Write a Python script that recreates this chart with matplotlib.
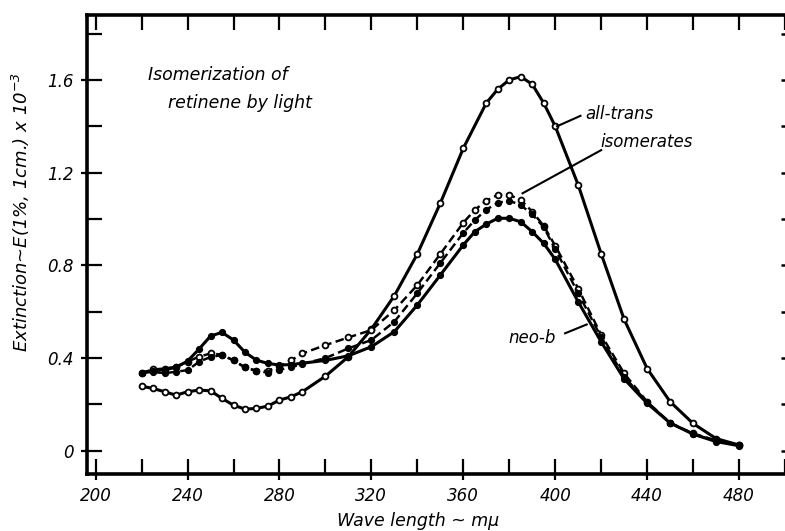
import numpy as np
import matplotlib
matplotlib.use("Agg")
import matplotlib.pyplot as plt
from matplotlib.ticker import MultipleLocator, FixedLocator

# wavelengths (m-mu) and extinction E(1%, 1cm) x 10^-3
wl_at = [220, 225, 230, 235, 240, 245, 250, 255, 260, 265, 270, 275, 280, 285, 290,
         300, 310, 320, 330, 340, 350, 360, 370, 375, 380, 385, 390, 395, 400,
         410, 420, 430, 440, 450, 460, 470, 480]
ext_at = [0.279, 0.269, 0.255, 0.240, 0.255, 0.262, 0.259, 0.226, 0.197, 0.180, 0.183,
          0.193, 0.219, 0.233, 0.255, 0.322, 0.406, 0.525, 0.669, 0.849, 1.068, 1.305,
          1.500, 1.560, 1.600, 1.614, 1.581, 1.500, 1.400, 1.147, 0.850, 0.567, 0.355,
          0.212, 0.118, 0.053, 0.025]

wl_iso = [220, 225, 230, 235, 240, 245, 250, 255, 260, 265, 270, 275, 280, 285, 290,
          300, 310, 320, 330, 340, 350, 360, 365, 370, 375, 380, 385, 390, 395, 400,
          410, 420, 430, 440, 450, 460, 470, 480]
ext_neo = [0.337, 0.345, 0.350, 0.360, 0.387, 0.439, 0.495, 0.511, 0.478, 0.425, 0.391,
           0.377, 0.370, 0.372, 0.378, 0.390, 0.410, 0.449, 0.514, 0.629, 0.758, 0.888,
           0.945, 0.978, 1.003, 1.003, 0.988, 0.945, 0.895, 0.826, 0.643, 0.470, 0.310,
           0.205, 0.120, 0.072, 0.040, 0.022]
ext_iso_open = [0.337, 0.351, 0.355, 0.363, 0.385, 0.406, 0.420, 0.415, 0.390, 0.360,
                0.345, 0.345, 0.365, 0.390, 0.420, 0.456, 0.489, 0.521, 0.607, 0.715,
                0.849, 0.984, 1.039, 1.079, 1.104, 1.104, 1.082, 1.032, 0.970, 0.885,
                0.700, 0.500, 0.334, 0.212, 0.121, 0.075, 0.045, 0.025]
ext_iso_fill = [0.337, 0.340, 0.335, 0.341, 0.348, 0.384, 0.405, 0.413, 0.390, 0.360,
                0.345, 0.337, 0.350, 0.360, 0.375, 0.400, 0.442, 0.478, 0.557, 0.680,
                0.810, 0.940, 0.995, 1.040, 1.070, 1.079, 1.060, 1.020, 0.965, 0.870,
                0.680, 0.490, 0.320, 0.210, 0.120, 0.073, 0.042, 0.024]

x_labels = [200, 240, 280, 320, 360, 400, 440, 480]
y_labels = [0, 0.4, 0.8, 1.2, 1.6]

plt.rcParams['font.family'] = 'DejaVu Sans'
plt.rcParams['font.style'] = 'oblique'
plt.rcParams['mathtext.fontset'] = 'dejavusans'

fig = plt.figure(figsize=(7.85, 5.31), dpi=100)
ax = fig.add_axes([0.1104, 0.1073, 0.8896, 0.8645])

lw = 2.2
dash = (0, (3.5, 1.8))
ax.plot(wl_at, ext_at, '-', color='black', lw=lw, marker='o', ms=4.2,
        mfc='white', mec='black', mew=1.3)
ax.plot(wl_iso, ext_iso_open, color='black', lw=lw * 0.8, ls=dash, marker='o', ms=4.2,
        mfc='white', mec='black', mew=1.3)
ax.plot(wl_iso, ext_iso_fill, color='black', lw=lw * 0.8, ls=dash, marker='o', ms=4.2,
        mfc='black', mec='black')
ax.plot(wl_iso, ext_neo, '-', color='black', lw=lw, marker='o', ms=4.2,
        mfc='black', mec='black')

ax.set_xlim(196.1, 500)
ax.set_ylim(-0.1, 1.88)

for s in ['left', 'bottom', 'top']:
    ax.spines[s].set_linewidth(2.6)
ax.spines['right'].set_visible(False)

ax.xaxis.set_major_locator(FixedLocator(x_labels))
ax.xaxis.set_minor_locator(MultipleLocator(20))
ax.yaxis.set_major_locator(FixedLocator(y_labels))
ax.yaxis.set_minor_locator(MultipleLocator(0.2))
ax.xaxis.remove_overlapping_locs = False
ax.yaxis.remove_overlapping_locs = False
ax.set_xticklabels([str(v) for v in x_labels])
ax.set_yticklabels(['0', '0.4', '0.8', '1.2', '1.6'])

ax.tick_params(which='major', direction='out', length=4.5, width=1.6,
               labelsize=12, pad=5, top=False, right=False)
ax.tick_params(which='minor', direction='in', length=11, width=1.6,
               top=True, bottom=True, left=True, right=False)

# short marks along the right edge
rt = ax.twinx()
rt.set_ylim(ax.get_ylim())
rt.yaxis.set_major_locator(MultipleLocator(0.2))
rt.tick_params(axis='y', direction='in', length=3, width=1.8, labelright=False)
for s in rt.spines.values():
    s.set_visible(False)

ax.set_xlabel(u'Wave length ~ m\u03bc', fontsize=12.5)
ax.xaxis.set_label_coords(0.4745, -0.082)
ax.set_ylabel('Extinction~E(1%, 1cm.) x 10$^{-3}$', fontsize=13)
ax.yaxis.set_label_coords(-0.078, 0.57)

ax.text(222.8, 1.62, 'Isomerization of', fontsize=12.5, va='center')
ax.text(231.5, 1.50, 'retinene by light', fontsize=12.5, va='center')

ax.text(413, 1.455, 'all-trans', fontsize=12, va='center')
ax.plot([400.8, 411], [1.40, 1.445], color='black', lw=1.5)
ax.text(419.5, 1.33, 'isomerates', fontsize=12, va='center')
ax.plot([385.8, 420], [1.111, 1.297], color='black', lw=1.5)
ax.text(379.5, 0.486, 'neo-b', fontsize=12, va='center')
ax.plot([404.3, 413.7], [0.507, 0.545], color='black', lw=1.5)

fig.savefig('out.png', dpi=100)
